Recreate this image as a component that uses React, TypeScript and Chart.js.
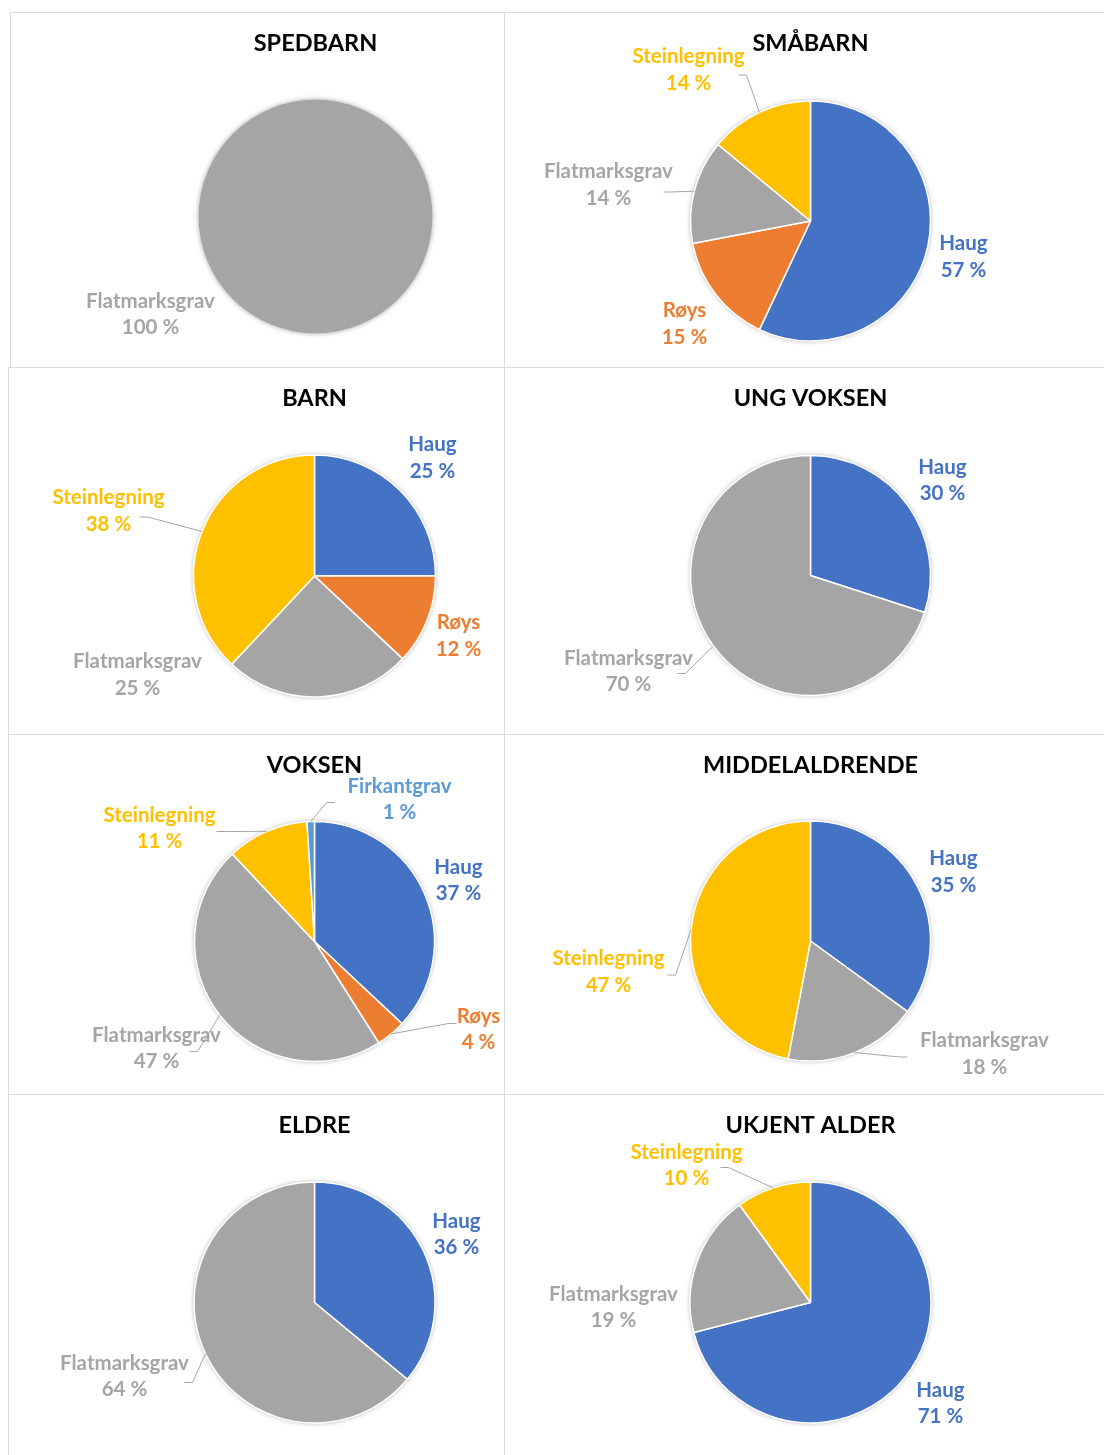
import React, { useEffect, useRef } from "react";
import { Chart, registerables } from "chart.js";

Chart.register(...registerables);

// ---------- DATA ----------
const categories = ["Haug", "Røys", "Flatmarksgrav", "Steinlegning", "Firkantgrav"];
const panelTitles = ["SPEDBARN", "SMÅBARN", "BARN", "UNG VOKSEN", "VOKSEN", "MIDDELALDRENDE", "ELDRE", "UKJENT ALDER"];

const spedbarn = [0, 0, 100, 0, 0];
const smaabarn = [57, 15, 14, 14, 0];
const barn = [25, 12, 25, 38, 0];
const ungVoksen = [30, 0, 70, 0, 0];
const voksen = [37, 4, 47, 11, 1];
const middelaldrende = [35, 0, 18, 47, 0];
const eldre = [36, 0, 64, 0, 0];
const ukjentAlder = [71, 0, 19, 10, 0];

const panelValues = [spedbarn, smaabarn, barn, ungVoksen, voksen, middelaldrende, eldre, ukjentAlder];

// ---------- STYLE / LAYOUT ----------
const categoryColors: Record<string, string> = {
  Haug: "#4472C4",
  "Røys": "#ED7D31",
  Flatmarksgrav: "#A5A5A5",
  Steinlegning: "#FFC000",
  Firkantgrav: "#5B9BD5",
};

// panel box, pie centre and radius (page pixels)
const panelLayout = [
  { x: 11, y: 13, w: 493, h: 354, cx: 315.5, cy: 216.5, r: 117 },
  { x: 504, y: 13, w: 600, h: 354, cx: 810.5, cy: 221, r: 120 },
  { x: 11, y: 367, w: 493, h: 367, cx: 314.5, cy: 576, r: 121 },
  { x: 504, y: 367, w: 600, h: 367, cx: 810.5, cy: 575.5, r: 120 },
  { x: 11, y: 734, w: 493, h: 360, cx: 314.5, cy: 941.5, r: 120 },
  { x: 504, y: 734, w: 600, h: 360, cx: 810.5, cy: 941, r: 120 },
  { x: 11, y: 1094, w: 493, h: 361, cx: 314.5, cy: 1302.5, r: 120.5 },
  { x: 504, y: 1094, w: 600, h: 361, cx: 810.5, cy: 1302.5, r: 120.5 },
];

const titleOffsets = [30.5, 30.5, 31.5, 31.5, 31.5, 31.5, 31.5, 31.5];

type Place = { dx: number; dy: number; lead?: [number, number] };
// label block centre relative to pie centre; optional leader start relative to pie centre
const labelPlacement: Record<string, Place>[] = [
  { Flatmarksgrav: { dx: -165, dy: 98 } },
  {
    Haug: { dx: 153, dy: 36 },
    "Røys": { dx: -126, dy: 103 },
    Flatmarksgrav: { dx: -202, dy: -36, lead: [-147, -29] },
    Steinlegning: { dx: -122, dy: -151, lead: [-72, -146] },
  },
  {
    Haug: { dx: 118, dy: -118 },
    "Røys": { dx: 144, dy: 60 },
    Flatmarksgrav: { dx: -177, dy: 99 },
    Steinlegning: { dx: -206, dy: -65, lead: [-175, -59] },
  },
  {
    Haug: { dx: 132, dy: -95 },
    Flatmarksgrav: { dx: -182, dy: 96, lead: [-133, 98] },
  },
  {
    Haug: { dx: 144, dy: -61 },
    "Røys": { dx: 164, dy: 88, lead: [142, 82] },
    Flatmarksgrav: { dx: -158, dy: 107, lead: [-125, 110] },
    Steinlegning: { dx: -155, dy: -113, lead: [-98, -110] },
    Firkantgrav: { dx: 85, dy: -142, lead: [20, -139] },
  },
  {
    Haug: { dx: 143, dy: -69 },
    Flatmarksgrav: { dx: 174, dy: 113, lead: [97, 116] },
    Steinlegning: { dx: -202, dy: 31, lead: [-143, 34] },
  },
  {
    Haug: { dx: 142, dy: -68 },
    Flatmarksgrav: { dx: -190, dy: 74, lead: [-130, 80] },
  },
  {
    Haug: { dx: 130, dy: 101 },
    Flatmarksgrav: { dx: -197, dy: 5 },
    Steinlegning: { dx: -124, dy: -137, lead: [-90, -135] },
  },
];

const FONT_FAMILY = "Lato, 'Open Sans', sans-serif";
const LABEL_FONT = `bold 20.5px ${FONT_FAMILY}`;
const TITLE_FONT = `bold 23.5px ${FONT_FAMILY}`;
const LINE_GAP = 26.5;

const pieDecor = {
  id: "pieDecor",
  beforeDatasetsDraw(chart: any) {
    const meta = chart.getDatasetMeta(0);
    const a = meta.data[0];
    if (!a) return;
    const ctx = chart.ctx;
    ctx.save();
    ctx.shadowColor = "rgba(0,0,0,0.35)";
    ctx.shadowBlur = 5;
    ctx.beginPath();
    ctx.arc(a.x, a.y, a.outerRadius, 0, Math.PI * 2);
    ctx.fillStyle = "#ffffff";
    ctx.fill();
    ctx.restore();
  },
  afterDatasetsDraw(chart: any, _args: any, opts: any) {
    const meta = chart.getDatasetMeta(0);
    const ctx = chart.ctx;
    const labels = chart.data.labels as string[];
    const values = chart.data.datasets[0].data as number[];
    let cx = 0;
    meta.data.forEach((arc: any, i: number) => {
      const { x, y, startAngle, endAngle, outerRadius } = arc.getProps(
        ["x", "y", "startAngle", "endAngle", "outerRadius"],
        true
      );
      cx = x;
      const name = labels[i];
      const place: Place = opts.placement[name];
      if (!place) return;
      const color = categoryColors[name];
      const lx = x + place.dx;
      const ly = y + place.dy;
      if (place.lead) {
        const mid = (startAngle + endAngle) / 2;
        const ex = x + Math.cos(mid) * outerRadius;
        const ey = y + Math.sin(mid) * outerRadius;
        const sx = x + place.lead[0];
        const sy = y + place.lead[1];
        const dir = ex > sx ? 1 : -1;
        ctx.save();
        ctx.strokeStyle = "#a6a6a6";
        ctx.lineWidth = 1;
        ctx.beginPath();
        ctx.moveTo(sx, sy);
        ctx.lineTo(sx + dir * 8, sy);
        ctx.lineTo(ex, ey);
        ctx.stroke();
        ctx.restore();
      }
      ctx.save();
      ctx.font = LABEL_FONT;
      ctx.fillStyle = color;
      ctx.textAlign = "center";
      ctx.textBaseline = "middle";
      ctx.fillText(name, lx, ly - LINE_GAP / 2);
      ctx.fillText(`${values[i]} %`, lx, ly + LINE_GAP / 2);
      ctx.restore();
    });
    ctx.save();
    ctx.font = TITLE_FONT;
    ctx.fillStyle = "#000000";
    ctx.textAlign = "center";
    ctx.textBaseline = "middle";
    ctx.fillText(opts.title, cx, opts.titleY);
    ctx.restore();
  },
};

function PiePanel({ index }: { index: number }) {
  const ref = useRef<HTMLCanvasElement | null>(null);
  const L = panelLayout[index];
  useEffect(() => {
    if (!ref.current) return;
    const vals = panelValues[index];
    const keep = categories.map((_, i) => i).filter((i) => vals[i] > 0);
    const half = L.r + 4;
    const chart = new Chart(ref.current, {
      type: "pie",
      data: {
        labels: keep.map((i) => categories[i]),
        datasets: [
          {
            data: keep.map((i) => vals[i]),
            backgroundColor: keep.map((i) => categoryColors[categories[i]]),
            borderColor: "#ffffff",
            borderWidth: keep.length > 1 ? 1.5 : 0,
          },
        ],
      },
      options: {
        animation: false,
        responsive: false,
        events: [],
        radius: L.r,
        layout: {
          padding: {
            left: L.cx - L.x - half,
            right: L.x + L.w - L.cx - half,
            top: L.cy - L.y - half,
            bottom: L.y + L.h - L.cy - half,
          },
        },
        plugins: {
          legend: { display: false },
          tooltip: { enabled: false },
          title: { display: false },
          pieDecor: {
            placement: labelPlacement[index],
            title: panelTitles[index],
            titleY: titleOffsets[index],
          },
        } as any,
      } as any,
      plugins: [pieDecor],
    });
    return () => chart.destroy();
  }, [index]);
  return (
    <canvas
      ref={ref}
      width={L.w}
      height={L.h}
      style={{ position: "absolute", left: L.x, top: L.y, width: L.w, height: L.h }}
    />
  );
}

const LINE = "#dadada";

export default function App() {
  return (
    <div
      style={{
        position: "absolute",
        left: 0,
        top: 0,
        width: 1104,
        height: 1455,
        background: "#ffffff",
        overflow: "hidden",
      }}
    >
      {panelLayout.map((_, i) => (
        <PiePanel key={i} index={i} />
      ))}
      {/* grid lines */}
      <div style={{ position: "absolute", left: 10, top: 12, width: 1094, height: 1, background: LINE }} />
      <div style={{ position: "absolute", left: 8, top: 367, width: 1096, height: 1, background: LINE }} />
      <div style={{ position: "absolute", left: 8, top: 734, width: 1096, height: 1, background: LINE }} />
      <div style={{ position: "absolute", left: 8, top: 1094, width: 1096, height: 1, background: LINE }} />
      <div style={{ position: "absolute", left: 10, top: 12, width: 1, height: 355, background: LINE }} />
      <div style={{ position: "absolute", left: 8, top: 367, width: 1, height: 1088, background: LINE }} />
      <div style={{ position: "absolute", left: 504, top: 12, width: 1, height: 1443, background: LINE }} />
    </div>
  );
}
